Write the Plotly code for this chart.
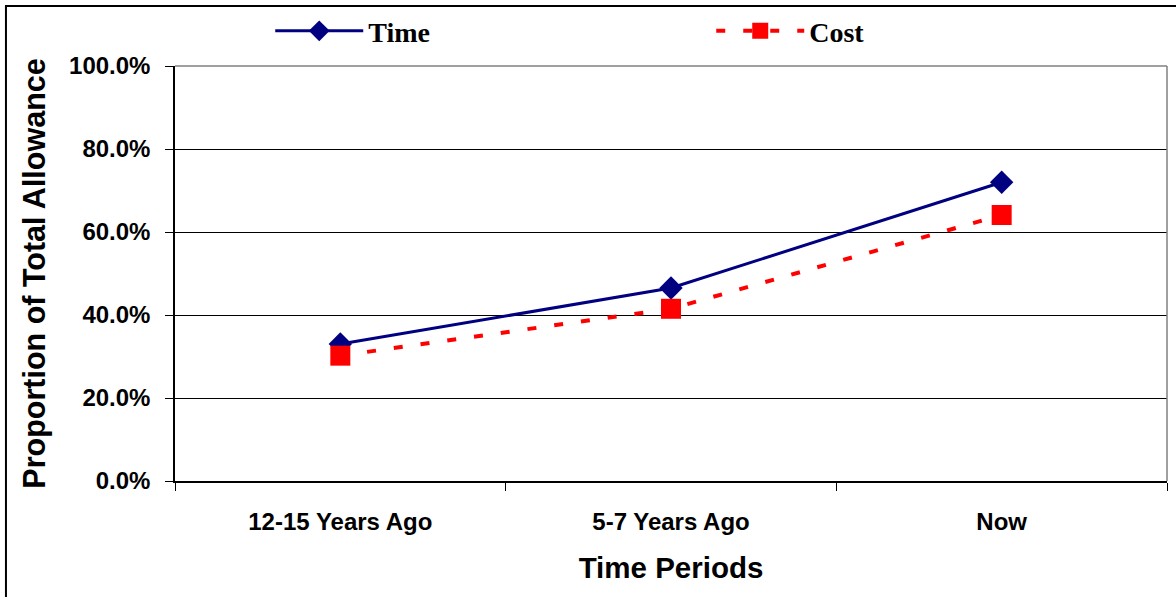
import plotly.graph_objects as go

categories = ["12-15 Years Ago", "5-7 Years Ago", "Now"]
time_values = [33.0, 46.5, 72.0]
cost_values = [30.2, 41.5, 64.1]
y_ticks = [0, 20, 40, 60, 80, 100]

SANS = "Arial, Liberation Sans, sans-serif"
SERIF = "Times New Roman, Liberation Serif, serif"

fig = go.Figure()
fig.add_trace(go.Scatter(
    x=categories, y=time_values, name="Time", mode="lines+markers",
    line=dict(color="#000080", width=3),
    marker=dict(symbol="diamond", size=18, color="#000080", line=dict(width=0)),
))
fig.add_trace(go.Scatter(
    x=categories, y=cost_values, name="Cost", mode="lines+markers",
    line=dict(color="#FF0000", width=4, dash="9px,18px"),
    marker=dict(symbol="square", size=20, color="#FF0000", line=dict(width=0)),
))

fig.update_layout(
    width=1176, height=597,
    margin=dict(l=175, r=9, t=66, b=116, autoexpand=False),
    paper_bgcolor="white", plot_bgcolor="white",
    font=dict(family=SANS, color="black"),
    showlegend=True,
    legend=dict(
        orientation="h", x=0.096, y=1.084, xanchor="left", yanchor="middle",
        font=dict(family=SERIF, size=28, color="black", weight="bold"),
        itemwidth=88, entrywidth=338, bgcolor="rgba(0,0,0,0)",
    ),
    xaxis=dict(
        type="category", range=[-0.5, 2.5], tickson="boundaries", ticks="outside", ticklen=8,
        tickcolor="black", showline=True, linecolor="black", linewidth=1.5,
        showgrid=False, tickfont=dict(family=SANS, size=24, weight="bold"),
        ticklabelstandoff=18,
        title=dict(text="Time Periods", font=dict(family=SANS, size=29.5, weight="bold"), standoff=24),
    ),
    yaxis=dict(
        range=[0, 100], tickvals=y_ticks, ticktext=[f"{v:.1f}%" for v in y_ticks],
        ticks="outside", ticklen=8, tickcolor="black", showline=True,
        linecolor="black", linewidth=1.5, showgrid=True, gridcolor="black",
        gridwidth=1, zeroline=False,
        tickfont=dict(family=SANS, size=24, weight="bold"), ticklabelstandoff=10,
        title=dict(text="Proportion of Total Allowance", font=dict(family=SANS, size=30.5, weight="bold"), standoff=14),
    ),
    shapes=[
        dict(type="line", xref="paper", yref="paper", x0=0, x1=1, y0=1, y1=1,
             line=dict(color="#808080", width=1.5), layer="above"),
        dict(type="line", xref="paper", yref="paper", x0=1, x1=1, y0=0, y1=1,
             line=dict(color="#808080", width=1.5), layer="above"),
        dict(type="rect", xref="paper", yref="paper", x0=-0.1704, x1=1.03,
             y0=-0.35, y1=1.1446, line=dict(color="black", width=2), layer="above"),
    ],
)

fig.write_html("out.html", config={"displayModeBar": False},
               post_script="document.body.style.margin='0';")
